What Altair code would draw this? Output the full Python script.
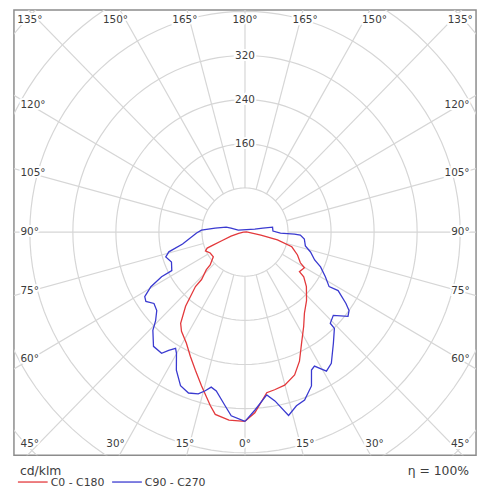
import math
import altair as alt
import pandas as pd

# ---------------- data ----------------
# gamma = angle from nadir in degrees (0 = straight down), intensity in cd/klm
c180_gamma = [0, 5, 9.5, 11.6, 16.2, 20.2, 24.3, 28.4, 33.3, 35.9, 39.4, 43.0, 43.2, 46.5, 47.4,
              52.7, 59.6, 65.1, 67.6, 68.4, 69.9, 74.4, 78, 85]
c180_cd = [343, 342, 335, 321, 290, 267, 247, 229, 215, 204, 174, 135, 118, 99, 88,
           74, 75, 81, 76, 64, 47, 27, 12, 3]

c0_gamma = [0, 3.2, 7.9, 10.9, 14.9, 19.6, 23.4, 27.6, 32.5, 36.9, 42.6, 49.1, 53.4, 54.7,
            59.7, 61.6, 67.0, 73.0, 76.7, 79.6, 95]
c0_cd = [343, 328, 294, 291, 287, 275, 255, 227, 203, 184, 169, 151, 136, 124,
         128, 117, 106, 91, 62, 30, 3]

c270_gamma = [0, 4.4, 6.7, 10.5, 12.6, 14.4, 16.5, 19.8, 23.3, 27.0, 30.1, 31.5, 33.5, 35.2,
              39.4, 43.9, 46.0, 49.1, 52.6, 55.7, 57.9, 60.5, 62.4, 62.8, 68.4, 73.0, 75.8,
              79.5, 89, 92.5, 97.4, 104.4, 105.6, 105.6]
c270_cd = [343, 334, 317, 293, 288, 297, 306, 310, 303, 281, 254, 247, 257, 269,
           268, 247, 231, 217, 213, 223, 220, 201, 175, 153, 147, 154, 146,
           118, 90, 81, 56, 36, 27, 13]

c90_gamma = [0, 3.3, 7.8, 10.3, 13.7, 16.9, 20.0, 23.9, 26.3, 28.0, 31.0, 34.0, 39.2, 43.6,
             43.8, 47.4, 51.4, 53.7, 55.4, 58.5, 57.7, 61.5, 65.8, 68.7, 73.5, 77.4, 83.5,
             87.0, 87.8, 88.4, 92, 99.9, 102.2, 106.4]
c90_cd = [343, 323, 298, 311, 342, 329, 324, 305, 279, 275, 294, 287, 260, 241,
          229, 223, 245, 240, 228, 203, 185, 170, 154, 139, 127, 115, 111,
          103, 92, 66, 52, 52, 34, 19]

series_names = ["C0 - C180", "C90 - C270"]
series_colors = ["#e3393c", "#3a3ad0"]

ring_values = [80, 160, 240, 320, 400, 480, 560]
ring_label_values = [160, 240, 320]
spoke_angles = list(range(0, 360, 15))
angle_ticks = [0, 15, 30, 45, 60, 75, 90, 105, 120, 135, 150, 165, 180]

unit_text = "cd/klm"
eta_text = "η = 100%"

# ---------------- geometry ----------------
W, H = 466, 449
XD = [-429.5, 429.5]
YD = [-404.5, 402.5]
FONT = "DejaVu Sans"
GRID = "#d6d6d6"
TXT = "#3c3c3c"

xs = alt.Scale(domain=XD, nice=False, zero=False)
ys = alt.Scale(domain=YD, nice=False, zero=False)


def rad(a):
    return math.radians(a)


# curves
rows = []
for name, (lg, lc, rg, rc) in zip(series_names, [
        (c180_gamma, c180_cd, c0_gamma, c0_cd),
        (c270_gamma, c270_cd, c90_gamma, c90_cd)]):
    k = 0
    for g, c in zip(lg, lc):
        rows.append({"series": name, "o": k, "x": -c * math.sin(rad(g)), "y": -c * math.cos(rad(g))})
        k += 1
    for g, c in zip(rg[::-1], rc[::-1]):
        rows.append({"series": name, "o": k, "x": c * math.sin(rad(g)), "y": -c * math.cos(rad(g))})
        k += 1
curves_df = pd.DataFrame(rows)

# rings
ring_rows = []
for R in ring_values:
    for t in range(0, 361, 3):
        ring_rows.append({"ring": R, "t": t, "x": R * math.sin(rad(t)), "y": R * math.cos(rad(t))})
rings_df = pd.DataFrame(ring_rows)

# spokes
spoke_df = pd.DataFrame([{"x": 80 * math.sin(rad(a)), "y": -80 * math.cos(rad(a)),
                          "x2": 900 * math.sin(rad(a)), "y2": -900 * math.cos(rad(a))}
                         for a in spoke_angles])

# ring labels
rl_df = pd.DataFrame({"x": [0] * len(ring_label_values), "y": ring_label_values,
                      "t": [str(v) for v in ring_label_values]})

# angle labels
YROW, XEXT, XSIDE, XEDGE = 385, 417, 400, 417.5
al_rows = []
for s in (-1, 1):
    for a in angle_ticks:
        if s == 1 and a in (0, 180):
            continue
        if a <= 45 or a >= 135:
            phi = a if a <= 45 else 180 - a
            x = s * min(XEXT * math.tan(rad(phi)), XSIDE)
            y = -YROW if a <= 45 else YROW
            al = "center"
        else:
            x = s * XEDGE
            y = -XSIDE * math.cos(rad(a)) / math.sin(rad(a))
            al = "left" if s == -1 else "right"
        al_rows.append({"x": x, "y": y, "t": f"{a}°", "al": al})
al_df = pd.DataFrame(al_rows)

base = alt.Chart().properties(width=W, height=H)

rings = alt.Chart(rings_df).mark_line(color=GRID, strokeWidth=1.2, clip=True).encode(
    x=alt.X("x:Q", scale=xs, axis=None), y=alt.Y("y:Q", scale=ys, axis=None),
    detail="ring:N", order="t:Q")

spokes = alt.Chart(spoke_df).mark_rule(color=GRID, strokeWidth=1.2, clip=True).encode(
    x=alt.X("x:Q", scale=xs, axis=None), y=alt.Y("y:Q", scale=ys, axis=None), x2="x2:Q", y2="y2:Q")


def halo_text(df, align):
    enc = dict(x=alt.X("x:Q", scale=xs, axis=None), y=alt.Y("y:Q", scale=ys, axis=None), text="t:N")
    h = alt.Chart(df).mark_text(font=FONT, fontSize=10.5, align=align, baseline="middle",
                                stroke="white", strokeWidth=4, color="white").encode(**enc)
    t = alt.Chart(df).mark_text(font=FONT, fontSize=10.5, align=align, baseline="middle",
                                color=TXT).encode(**enc)
    return [h, t]


label_layers = []
label_layers += halo_text(rl_df, "center")
for al in ("left", "center", "right"):
    sub = al_df[al_df["al"] == al]
    label_layers += halo_text(sub, al)

curves = alt.Chart(curves_df).mark_line(strokeWidth=1.3, clip=True).encode(
    x=alt.X("x:Q", scale=xs, axis=None), y=alt.Y("y:Q", scale=ys, axis=None),
    color=alt.Color("series:N", scale=alt.Scale(domain=series_names, range=series_colors), legend=None),
    order="o:Q")

# bottom texts / legend (positions relative to plot area)
foot = alt.Chart(pd.DataFrame({"t": [unit_text]})).mark_text(
    font=FONT, fontSize=12.5, align="left", baseline="alphabetic", color=TXT).encode(
    x=alt.value(6), y=alt.value(469), text="t:N")
eta = alt.Chart(pd.DataFrame({"t": [eta_text]})).mark_text(
    font=FONT, fontSize=12.5, align="right", baseline="alphabetic", color=TXT).encode(
    x=alt.value(459), y=alt.value(469), text="t:N")

leg_df = pd.DataFrame({"series": series_names, "x": [4, 99], "x2": [34, 129], "tx": [37, 132]})
leg_lines = []
leg_texts = []
for i, name in enumerate(series_names):
    d = pd.DataFrame({"t": [name]})
    leg_lines.append(alt.Chart(d).mark_rule(color=series_colors[i], strokeWidth=1.3).encode(
        x=alt.value(int(leg_df.x[i])), x2=alt.value(int(leg_df.x2[i])), y=alt.value(476)))
    leg_texts.append(alt.Chart(d).mark_text(font=FONT, fontSize=11, align="left", baseline="middle",
                                            color=TXT).encode(
        x=alt.value(int(leg_df.tx[i])), y=alt.value(477), text="t:N"))

chart = alt.layer(rings, spokes, *label_layers, curves, foot, eta, *leg_lines, *leg_texts).properties(
    width=W, height=H, padding={"left": 6, "top": 0, "right": 5, "bottom": 0},
    background="white"
).configure_view(stroke="#8c8c8c", strokeWidth=1.5)

chart.save("out.html", embed_options={"renderer": "svg", "actions": False})
